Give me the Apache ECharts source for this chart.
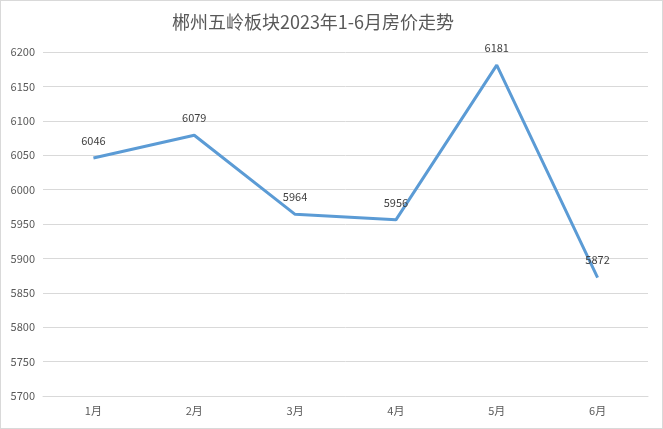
<!DOCTYPE html>
<html>
<head>
<meta charset="utf-8">
<script src="https://cdn.jsdelivr.net/npm/echarts@6/dist/echarts.min.js"></script>
<style>
  html, body { margin: 0; padding: 0; background: #fff; }
  #main { width: 661px; height: 427px; border: 1px solid #d9d9d9; }
</style>
</head>
<body>
<div id="main"></div>
<script>
var months = ['1月', '2月', '3月', '4月', '5月', '6月'];
var prices = [6046, 6079, 5964, 5956, 6181, 5872];

var myChart = echarts.init(document.getElementById('main'));

var option = {
  title: {
    text: '郴州五岭板块2023年1-6月房价走势',
    left: 307,
    textAlign: 'center',
    top: 7,
    textStyle: {
      fontFamily: 'Noto Sans CJK SC',
      fontSize: 18,
      fontWeight: 'normal',
      color: '#595959'
    }
  },
  grid: {
    left: 42,
    right: 14,
    top: 51,
    bottom: 32
  },
  xAxis: {
    type: 'category',
    data: months,
    boundaryGap: true,
    axisLine: { show: true, lineStyle: { color: '#d9d9d9' } },
    axisTick: { show: false },
    axisLabel: {
      color: '#595959',
      fontSize: 11,
      margin: 9,
      fontFamily: 'Noto Sans CJK SC'
    }
  },
  yAxis: {
    type: 'value',
    min: 5700,
    max: 6200,
    interval: 50,
    axisLine: { show: false },
    axisTick: { show: false },
    axisLabel: {
      color: '#595959',
      fontSize: 11,
      margin: 8,
      fontFamily: 'Noto Sans CJK SC',
      formatter: function (v) { return String(v); }
    },
    splitLine: { lineStyle: { color: '#d9d9d9' } }
  },
  series: [
    {
      type: 'line',
      data: prices,
      symbol: 'circle',
      symbolSize: 2,
      showSymbol: true,
      lineStyle: { color: '#5b9bd5', width: 3 },
      itemStyle: { color: 'rgba(91,155,213,0)', borderWidth: 0 },
      label: {
        show: true,
        position: 'top',
        distance: 11,
        opacity: 1,
        color: '#404040',
        fontSize: 11,
        fontFamily: 'Noto Sans CJK SC'
      },
      animation: false
    }
  ]
};

myChart.setOption(option);
</script>
</body>
</html>
